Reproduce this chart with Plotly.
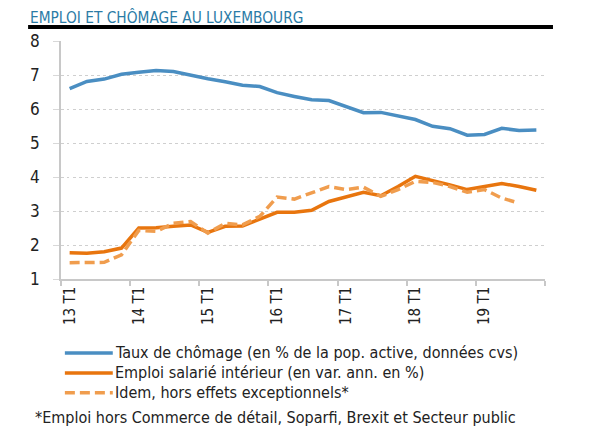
import plotly.graph_objects as go

# quarters 13 T1 .. 19 T4
quarters = [f"{y} T{q}" for y in range(13, 20) for q in range(1, 5)]
year_labels = ["13 T1", "14 T1", "15 T1", "16 T1", "17 T1", "18 T1", "19 T1"]

chomage = [6.60, 6.81, 6.88, 7.02, 7.08, 7.13, 7.10, 6.99,
           6.89, 6.80, 6.70, 6.66, 6.48, 6.37, 6.27, 6.25,
           6.07, 5.89, 5.90, 5.80, 5.69, 5.49, 5.42, 5.23,
           5.25, 5.43, 5.37, 5.38]
emploi = [1.77, 1.76, 1.80, 1.91, 2.50, 2.51, 2.55, 2.59,
          2.37, 2.55, 2.56, 2.75, 2.96, 2.96, 3.02, 3.28,
          3.41, 3.55, 3.45, 3.72, 4.02, 3.90, 3.77, 3.63,
          3.72, 3.81, 3.72, 3.61]
emploi_hors = [1.48, 1.48, 1.49, 1.71, 2.43, 2.40, 2.64, 2.69,
               2.35, 2.64, 2.59, 2.84, 3.41, 3.35, 3.53, 3.72,
               3.63, 3.70, 3.43, 3.63, 3.87, 3.84, 3.72, 3.55,
               3.63, 3.38, 3.23]

series_names = ["Taux de chômage (en % de la pop. active, données cvs)",
                "Emploi salarié intérieur (en var. ann. en %)",
                "Idem, hors effets exceptionnels*"]
series_colors = ["#4a8ec2", "#e8750e", "#f09d4e"]
series_dash = ["solid", "solid", "10px,5px"]

FONT = "Liberation Sans Narrow, DejaVu Sans Condensed, sans-serif"
x_idx = list(range(len(quarters)))

fig = go.Figure()
for name, vals, col, dash in zip(series_names, [chomage, emploi, emploi_hors],
                                 series_colors, series_dash):
    fig.add_trace(go.Scatter(x=x_idx[:len(vals)], y=vals, mode="lines", name=name,
                             line=dict(color=col, width=3.5, dash=dash),
                             showlegend=False))

fig.update_xaxes(
    range=[-0.5, len(quarters) - 0.5],
    tickvals=[x_idx[i] for i in range(0, len(quarters), 4)],
    ticktext=year_labels,
    tickangle=-90,
    ticks="",
    showgrid=False,
    showline=True, linecolor="#c8c8c8", linewidth=1.5,
    tickfont=dict(size=15, color="#222", family=FONT),
    minor=dict(tick0=-0.5, dtick=4, ticks="outside", ticklen=5,
               tickcolor="#c8c8c8", tickwidth=1.5, showgrid=False),
)
fig.update_yaxes(
    range=[1, 8], dtick=1,
    showgrid=True, gridcolor="#cfcfcf", griddash="dot", gridwidth=1,
    showline=True, linecolor="#c8c8c8", linewidth=1.5,
    ticks="outside", ticklen=6, tickcolor="#d8d8d8",
    ticklabelstandoff=10,
    tickfont=dict(size=17, color="#222", family=FONT),
    zeroline=False,
)

# title and rule
fig.add_annotation(text="EMPLOI ET CHÔMAGE AU LUXEMBOURG", xref="paper", yref="paper",
                   x=-0.068, y=1.137, yshift=2, xanchor="left", yanchor="top",
                   showarrow=False,
                   font=dict(size=15.3, color="#2b7ba6", family=FONT))
fig.add_shape(type="line", xref="paper", yref="paper", x0=-0.068, x1=1.0165,
              y0=1.0588, y1=1.0588, line=dict(color="black", width=4))

# legend drawn by hand to match spacing
leg_y = [-0.3105, -0.3945, -0.4784]
for name, col, dash, yy in zip(series_names, series_colors, series_dash, leg_y):
    fig.add_shape(type="line", xref="paper", yref="paper", x0=0.008, x1=0.107,
                  y0=yy, y1=yy, line=dict(color=col, width=3.5, dash=dash))
    fig.add_annotation(text=name, xref="paper", yref="paper", x=0.108, y=yy,
                       xanchor="left", yanchor="middle", showarrow=False,
                       font=dict(size=16, color="#222", family=FONT))

fig.add_annotation(text="*Emploi hors Commerce de détail, Soparfi, Brexit et Secteur public",
                   xref="paper", yref="paper", x=-0.058, y=-0.583,
                   xanchor="left", yanchor="middle", showarrow=False,
                   font=dict(size=16, color="#222", family=FONT))

fig.update_layout(
    width=592, height=422,
    margin=dict(l=53, r=55, t=33, b=151),
    plot_bgcolor="white", paper_bgcolor="white",
)

fig.write_html("out.html")
